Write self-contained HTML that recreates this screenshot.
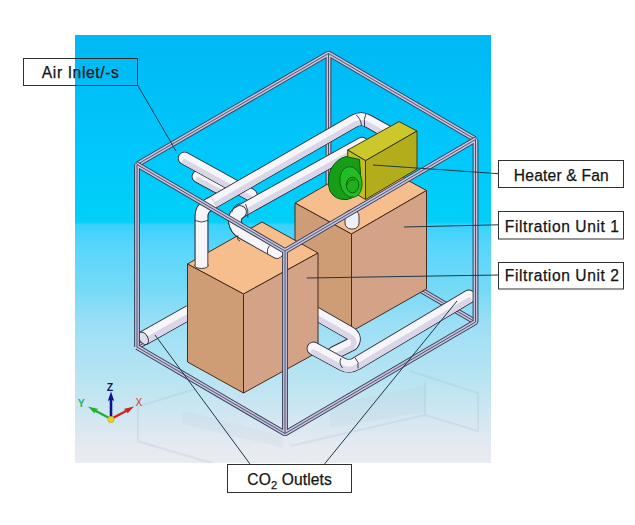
<!DOCTYPE html>
<html><head><meta charset="utf-8">
<style>
html,body{margin:0;padding:0;background:#fff;}
body{width:635px;height:525px;overflow:hidden;position:relative;}
svg{position:absolute;left:0;top:0;}
.lbl{font-family:"Liberation Sans",sans-serif;font-size:15.6px;fill:#141414;stroke:#141414;stroke-width:0.25px;}
</style></head>
<body>
<svg width="635" height="525" viewBox="0 0 635 525">
<defs>
<linearGradient id="bg" x1="0" y1="35" x2="0" y2="463" gradientUnits="userSpaceOnUse">
<stop offset="0" stop-color="#00B8F4"/>
<stop offset="0.28" stop-color="#00C8FC"/>
<stop offset="0.437" stop-color="#02D0F8"/>
<stop offset="0.444" stop-color="#3AD2FB"/>
<stop offset="0.49" stop-color="#56D5FD"/>
<stop offset="0.589" stop-color="#73DAF6"/>
<stop offset="0.678" stop-color="#9DDFF6"/>
<stop offset="0.806" stop-color="#B8E4F2"/>
<stop offset="0.958" stop-color="#E5E9F1"/>
<stop offset="1" stop-color="#E9ECEF"/>
</linearGradient>
</defs>
<rect x="75" y="35" width="416" height="428" fill="url(#bg)"/>

<g fill="none" stroke="#8fa4b6" stroke-width="2.2" opacity="0.15">
<path d="M138 441 L138 406.6 L197.6 388.2"/>
<path d="M138 441.4 L212 463"/>
<path d="M409.7 371 L478 393 L478 431 L425 415 L425 382"/>
<path d="M290 446 L425 415"/>
</g>
<g fill="#9fb0c0" opacity="0.08">
<polygon points="182,410 283,436 283,448 182,424"/>
<polygon points="330,405 425,385 425,412 330,428"/>
</g>
<path d="M328.5 53.5 L328.5 236.0 M137 347.0 L328.5 236.0 L475.5 322.0 M137 164.5 L328.5 53.5 L475.5 139.5" fill="none" stroke="#34405a" stroke-width="5.8" stroke-linejoin="bevel" stroke-linecap="butt"/>
<path d="M328.5 53.5 L328.5 236.0 M137 347.0 L328.5 236.0 L475.5 322.0 M137 164.5 L328.5 53.5 L475.5 139.5" fill="none" stroke="#c9c3dc" stroke-width="3.8" stroke-linejoin="bevel" stroke-linecap="butt"/>
<path d="M328.5 53.5 L328.5 236.0 M137 347.0 L328.5 236.0 L475.5 322.0 M137 164.5 L328.5 53.5 L475.5 139.5" fill="none" stroke="#4a5272" stroke-width="1.0" stroke-linejoin="bevel" stroke-linecap="butt"/>
<g stroke="#4a2a1a" stroke-width="1" stroke-linejoin="round">
<polygon points="295,203 370,159.5 426.5,190.5 351.5,234" fill="#F7BE8D"/>
<polygon points="295,203 351.5,234 351.5,331.5 295,300" fill="#CE9D75"/>
<polygon points="351.5,234 426.5,190.5 426.5,289 351.5,331.5" fill="#D4A286"/>
</g>
<path d="M198 176.5 L224 190.5" fill="none" stroke="#2e3040" stroke-width="12.80" stroke-linecap="round" stroke-linejoin="round"/>
<path d="M198 176.5 L224 190.5" fill="none" stroke="#f6f6fa" stroke-width="11.00" stroke-linecap="round" stroke-linejoin="round"/>
<mask id="pm1" maskUnits="userSpaceOnUse" x="0" y="0" width="635" height="525"><path d="M198 176.5 L224 190.5" fill="none" stroke="#fff" stroke-width="10.50" stroke-linecap="round" stroke-linejoin="round"/></mask>
<path d="M198 176.5 L224 190.5" transform="translate(0 3.30)" fill="none" stroke="#dad6e8" stroke-width="4.95" stroke-linecap="round" stroke-linejoin="round" mask="url(#pm1)"/>
<path d="M184.5 158.3 L251 195" fill="none" stroke="#2e3040" stroke-width="13.30" stroke-linecap="round" stroke-linejoin="round"/>
<path d="M184.5 158.3 L251 195" fill="none" stroke="#f6f6fa" stroke-width="11.50" stroke-linecap="round" stroke-linejoin="round"/>
<mask id="pm2" maskUnits="userSpaceOnUse" x="0" y="0" width="635" height="525"><path d="M184.5 158.3 L251 195" fill="none" stroke="#fff" stroke-width="11.00" stroke-linecap="round" stroke-linejoin="round"/></mask>
<path d="M184.5 158.3 L251 195" transform="translate(0 3.45)" fill="none" stroke="#dad6e8" stroke-width="5.17" stroke-linecap="round" stroke-linejoin="round" mask="url(#pm2)"/>
<path d="M362 143.6 L243 210 Q234 215 235 222 Q236 229 243 233 L277 252" fill="none" stroke="#2e3040" stroke-width="13.60" stroke-linecap="round" stroke-linejoin="round"/>
<path d="M362 143.6 L243 210 Q234 215 235 222 Q236 229 243 233 L277 252" fill="none" stroke="#f6f6fa" stroke-width="11.80" stroke-linecap="round" stroke-linejoin="round"/>
<mask id="pm3" maskUnits="userSpaceOnUse" x="0" y="0" width="635" height="525"><path d="M362 143.6 L243 210 Q234 215 235 222 Q236 229 243 233 L277 252" fill="none" stroke="#fff" stroke-width="11.30" stroke-linecap="round" stroke-linejoin="round"/></mask>
<path d="M362 143.6 L243 210 Q234 215 235 222 Q236 229 243 233 L277 252" transform="translate(0 3.54)" fill="none" stroke="#dad6e8" stroke-width="5.31" stroke-linecap="round" stroke-linejoin="round" mask="url(#pm3)"/>
<path d="M201.5 266 L201.5 216 Q201.5 208.9 208 205.2 L354 121.2 Q361 117 368 121 L392 134.5" fill="none" stroke="#2e3040" stroke-width="13.60" stroke-linecap="round" stroke-linejoin="round"/>
<path d="M201.5 266 L201.5 216 Q201.5 208.9 208 205.2 L354 121.2 Q361 117 368 121 L392 134.5" fill="none" stroke="#f6f6fa" stroke-width="11.80" stroke-linecap="round" stroke-linejoin="round"/>
<mask id="pm4" maskUnits="userSpaceOnUse" x="0" y="0" width="635" height="525"><path d="M201.5 266 L201.5 216 Q201.5 208.9 208 205.2 L354 121.2 Q361 117 368 121 L392 134.5" fill="none" stroke="#fff" stroke-width="11.30" stroke-linecap="round" stroke-linejoin="round"/></mask>
<path d="M201.5 266 L201.5 216 Q201.5 208.9 208 205.2 L354 121.2 Q361 117 368 121 L392 134.5" transform="translate(0 3.54)" fill="none" stroke="#dad6e8" stroke-width="5.31" stroke-linecap="round" stroke-linejoin="round" mask="url(#pm4)"/>
<g stroke="#3a3a10" stroke-width="1" stroke-linejoin="round">
<polygon points="347.7,150 399,121.6 417,131 365.5,160.7" fill="#CCC82C"/>
<polygon points="347.7,150 365.5,160.7 365.5,199.5 347.7,189" fill="#C3BD24"/>
<polygon points="365.5,160.7 417,131 417,169 365.5,199.5" fill="#B3AD1C"/>
</g>
<g stroke="#0b5a0b" stroke-width="1">
<path d="M346 156.5 L359.5 159.5 L361.5 188 Q358 197 347 199.5 Q335 200.5 330 191 Q326.5 181 330.5 170 Q336 159 346 156.5 Z" fill="#169E16"/>
<ellipse cx="351" cy="182" rx="11" ry="15.5" transform="rotate(-10 351 182)" fill="#24BC24" stroke-width="0.8"/>
<ellipse cx="352.5" cy="185" rx="6.3" ry="7.8" fill="#1EAE1E" stroke-width="0.9"/>
<path d="M347 185 Q349 178.5 355 180" fill="none" stroke-width="0.8"/>
</g>
<rect x="345" y="210" width="14" height="19" rx="6" fill="#eef0f4" stroke="#3a3a4a" stroke-width="1"/>
<path d="M314 312.5 L349 332.5 Q357 337 352 344 L334 353" fill="none" stroke="#2e3040" stroke-width="13.80" stroke-linecap="round" stroke-linejoin="round"/>
<path d="M314 312.5 L349 332.5 Q357 337 352 344 L334 353" fill="none" stroke="#f6f6fa" stroke-width="12.00" stroke-linecap="round" stroke-linejoin="round"/>
<mask id="pm5" maskUnits="userSpaceOnUse" x="0" y="0" width="635" height="525"><path d="M314 312.5 L349 332.5 Q357 337 352 344 L334 353" fill="none" stroke="#fff" stroke-width="11.50" stroke-linecap="round" stroke-linejoin="round"/></mask>
<path d="M314 312.5 L349 332.5 Q357 337 352 344 L334 353" transform="translate(0 3.60)" fill="none" stroke="#dad6e8" stroke-width="5.40" stroke-linecap="round" stroke-linejoin="round" mask="url(#pm5)"/>
<path d="M143 338.5 L190 312" fill="none" stroke="#2e3040" stroke-width="14.80" stroke-linecap="butt" stroke-linejoin="round"/>
<path d="M143 338.5 L190 312" fill="none" stroke="#f6f6fa" stroke-width="13.00" stroke-linecap="butt" stroke-linejoin="round"/>
<mask id="pm6" maskUnits="userSpaceOnUse" x="0" y="0" width="635" height="525"><path d="M143 338.5 L190 312" fill="none" stroke="#fff" stroke-width="12.50" stroke-linecap="butt" stroke-linejoin="round"/></mask>
<path d="M143 338.5 L190 312" transform="translate(0 3.90)" fill="none" stroke="#dad6e8" stroke-width="5.85" stroke-linecap="butt" stroke-linejoin="round" mask="url(#pm6)"/>
<ellipse cx="143.5" cy="338.3" rx="4.2" ry="6.8" transform="rotate(-30 143.5 338.3)" fill="#dedee8" stroke="#2e3040" stroke-width="0.9"/>
<g stroke="#4a2a1a" stroke-width="1" stroke-linejoin="round">
<polygon points="187.5,264 262,222 318,253 243.5,294" fill="#F7BE8D"/>
<polygon points="187.5,264 243.5,294 243.5,393 187.5,362" fill="#CE9D75"/>
<polygon points="243.5,294 318,253 318,352 243.5,393" fill="#D4A286"/>
</g>
<ellipse cx="201.5" cy="265.5" rx="6.8" ry="3" fill="#f0f0f6" stroke="#2e3040" stroke-width="0.9"/>
<path d="M201.5 266 L201.5 216 Q201.5 208.9 208 205.2 L214 201.8" fill="none" stroke="#2e3040" stroke-width="13.60" stroke-linecap="butt" stroke-linejoin="round"/>
<path d="M201.5 266 L201.5 216 Q201.5 208.9 208 205.2 L214 201.8" fill="none" stroke="#f6f6fa" stroke-width="11.80" stroke-linecap="butt" stroke-linejoin="round"/>
<path d="M240 212 Q234 215 235 222 Q236 229 243 233 L277 252" fill="none" stroke="#2e3040" stroke-width="13.60" stroke-linecap="round" stroke-linejoin="round"/>
<path d="M240 212 Q234 215 235 222 Q236 229 243 233 L277 252" fill="none" stroke="#f6f6fa" stroke-width="11.80" stroke-linecap="round" stroke-linejoin="round"/>
<g fill="none" stroke="#303040" stroke-width="0.9">
<path d="M208 220.5 Q201.5 223.5 195 220.5"/>
<path d="M239.4 203.3 Q233 206 231.8 212.4"/>
<path d="M245.5 204 Q249 211 247.8 217.8"/>
<path d="M237.9 235.3 Q236.5 240 240 241"/>
<path d="M269.5 245.5 Q266.5 249 267.6 254"/>
</g>
<path d="M313.5 348.5 L342 364 Q349.5 368 356.5 363.5 L469 296.5" fill="none" stroke="#2e3040" stroke-width="13.80" stroke-linecap="round" stroke-linejoin="round"/>
<path d="M313.5 348.5 L342 364 Q349.5 368 356.5 363.5 L469 296.5" fill="none" stroke="#f6f6fa" stroke-width="12.00" stroke-linecap="round" stroke-linejoin="round"/>
<mask id="pm9" maskUnits="userSpaceOnUse" x="0" y="0" width="635" height="525"><path d="M313.5 348.5 L342 364 Q349.5 368 356.5 363.5 L469 296.5" fill="none" stroke="#fff" stroke-width="11.50" stroke-linecap="round" stroke-linejoin="round"/></mask>
<path d="M313.5 348.5 L342 364 Q349.5 368 356.5 363.5 L469 296.5" transform="translate(0 3.60)" fill="none" stroke="#dad6e8" stroke-width="5.40" stroke-linecap="round" stroke-linejoin="round" mask="url(#pm9)"/>
<g fill="none" stroke="#303040" stroke-width="0.9">
<path d="M341 358 Q338.5 363.5 342.5 368"/><path d="M355 357.5 Q359.5 362 358 368.5"/>
<path d="M356 114.6 Q361 119 361.5 126"/>
<path d="M366 113.5 Q363.5 119 364.5 126"/>
</g>
<path d="M137 347.0 L137 164.5 L285 251 L475.5 139.5 L475.5 322.0 L285 433.5 L137 347.0 M285 251 L285 433.5" fill="none" stroke="#34405a" stroke-width="5.8" stroke-linejoin="bevel" stroke-linecap="butt"/>
<path d="M137 347.0 L137 164.5 L285 251 L475.5 139.5 L475.5 322.0 L285 433.5 L137 347.0 M285 251 L285 433.5" fill="none" stroke="#c9c3dc" stroke-width="3.8" stroke-linejoin="bevel" stroke-linecap="butt"/>
<path d="M137 347.0 L137 164.5 L285 251 L475.5 139.5 L475.5 322.0 L285 433.5 L137 347.0 M285 251 L285 433.5" fill="none" stroke="#4a5272" stroke-width="1.0" stroke-linejoin="bevel" stroke-linecap="butt"/>
<g stroke="#1c3a48" stroke-width="1" fill="none">
<line x1="137.5" y1="85" x2="176" y2="151"/>
<line x1="373" y1="165" x2="498.5" y2="173.7"/>
<line x1="404" y1="227" x2="498.5" y2="224.8"/>
<line x1="306.7" y1="278" x2="498.5" y2="275"/>
<line x1="250" y1="464" x2="155" y2="335"/>
<line x1="324.5" y1="464" x2="457" y2="301"/>
</g>
<g fill="none" stroke="#303030" stroke-width="1">
<rect x="23.5" y="58.5" width="114" height="27"/>
<rect x="498.5" y="160.5" width="125" height="27"/>
<rect x="498.5" y="211.5" width="125" height="27.5"/>
<rect x="498.5" y="262.5" width="125" height="26.5"/>
<rect x="227.5" y="464.5" width="124" height="28"/>
</g>
<text class="lbl" x="41.8" y="78" letter-spacing="0.62">Air Inlet/-s</text>
<text class="lbl" x="513.8" y="180.8" letter-spacing="0.2">Heater &amp; Fan</text>
<text class="lbl" x="504.8" y="231.9" letter-spacing="0.58">Filtration Unit 1</text>
<text class="lbl" x="504.8" y="281.4" letter-spacing="0.58">Filtration Unit 2</text>
<text class="lbl" x="247.3" y="485.2" letter-spacing="0.12">CO<tspan font-size="11" dy="4">2</tspan><tspan dy="-4"> Outlets</tspan></text>
<g>
<line x1="111" y1="419" x2="111" y2="398" stroke="#0c1490" stroke-width="2.6"/>
<polygon points="111,391.5 107.8,401 111,399.5 114.2,401" fill="#0c1490"/>
<line x1="111" y1="419" x2="128" y2="410" stroke="#d42020" stroke-width="2.4"/>
<polygon points="134,406.5 123.5,409 126.5,410.5 127.5,413.5" fill="#d42020"/>
<line x1="111" y1="419" x2="94" y2="410" stroke="#20b030" stroke-width="2.4"/>
<polygon points="88,406.5 98.5,409 95.5,410.5 94.5,413.5" fill="#20b030"/>
<circle cx="111" cy="419.5" r="3.2" fill="#e8d020" stroke="#b0a010" stroke-width="0.5"/>
</g>
<text x="106.8" y="390.6" font-family="Liberation Sans" font-size="10.5" font-weight="bold" fill="#101a60">Z</text>
<text x="135.6" y="406.3" font-family="Liberation Sans" font-size="10" fill="#d83030">X</text>
<text x="77.8" y="406.5" font-family="Liberation Sans" font-size="10.5" font-weight="bold" fill="#20b86a">Y</text>
</svg>
</body></html>
